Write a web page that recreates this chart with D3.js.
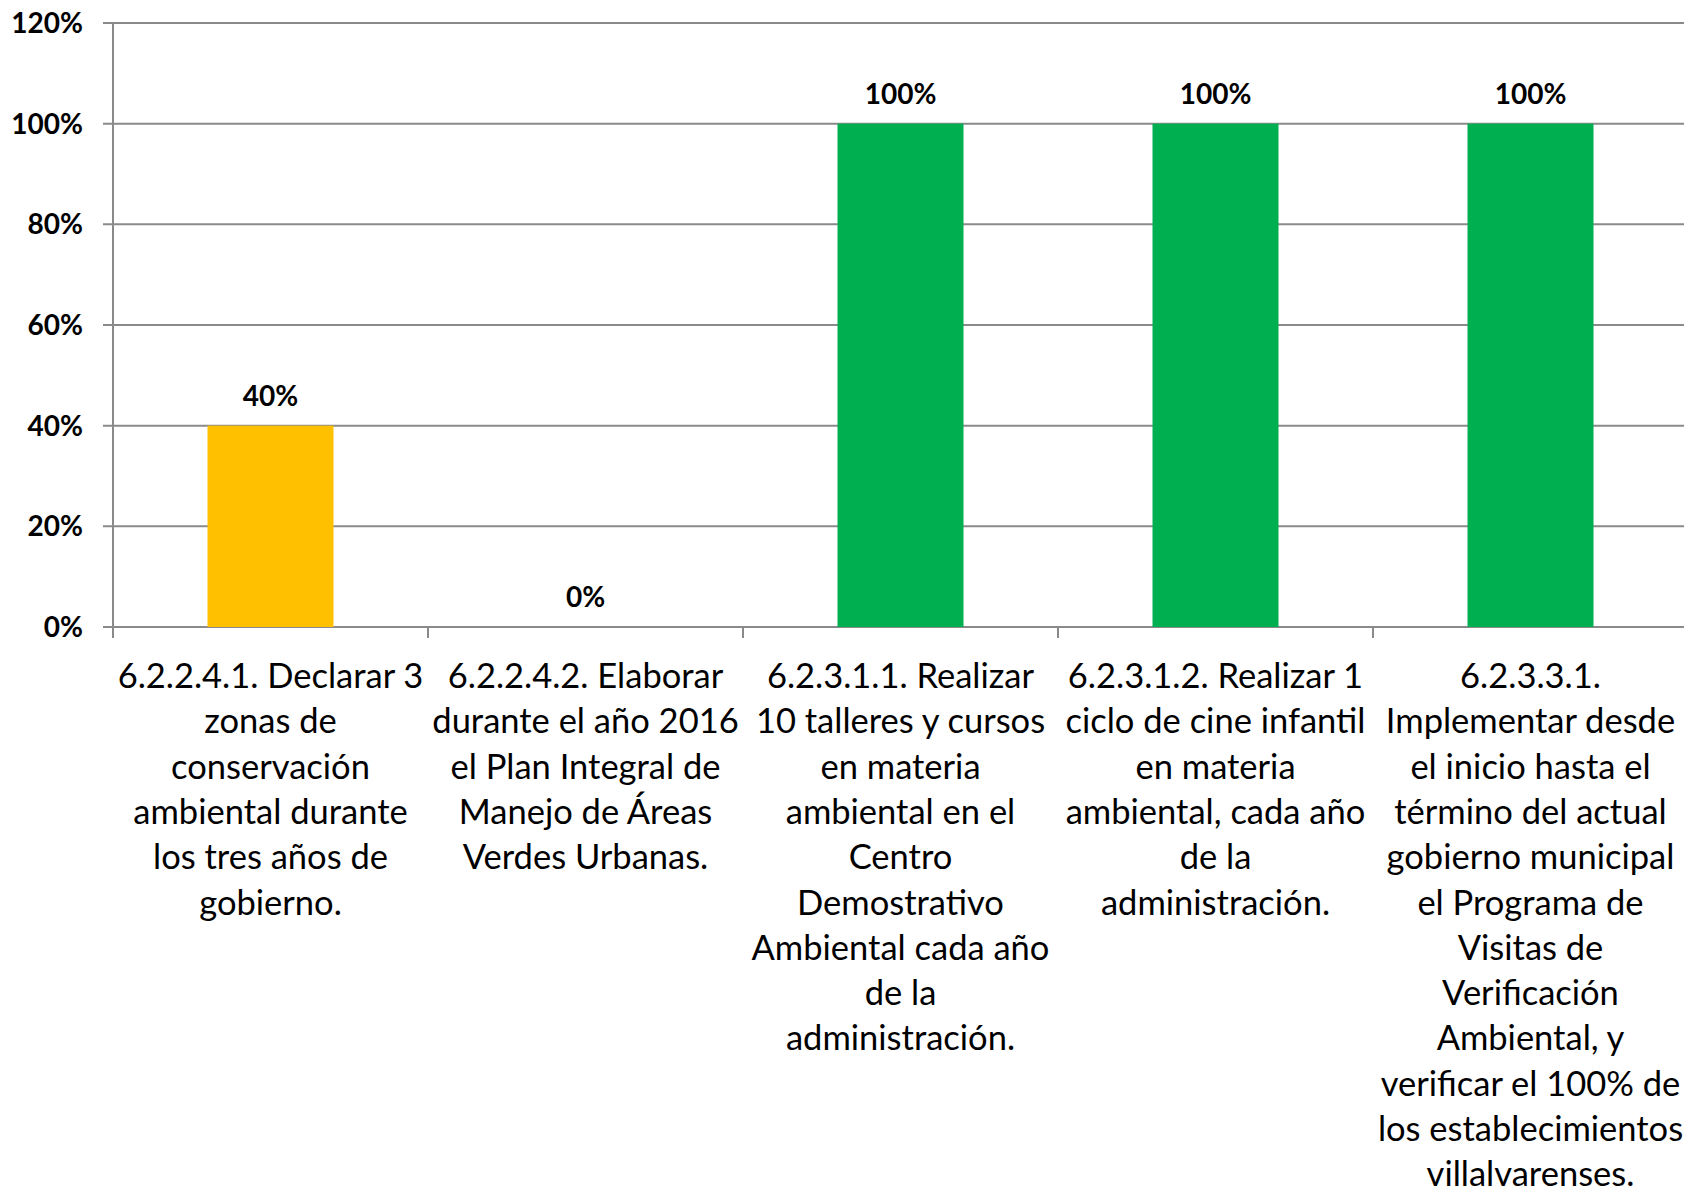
<!DOCTYPE html>
<html>
<head>
<meta charset="utf-8">
<script src="https://cdn.jsdelivr.net/npm/d3@7"></script>
<style>
  body { margin: 0; background: #fff; }
  svg { display: block; background: #fff; }
  .tick-label, .value-label { font-family: Lato, "Open Sans", sans-serif; font-weight: bold; font-size: 28px; fill: #000; }
  .cat-label { font-family: Lato, "Open Sans", sans-serif; font-size: 34.5px; fill: #000; }
</style>
</head>
<body>
<script>
// categories, wrapped the way the original chart wraps them
var categories = ["6.2.2.4.1", "6.2.2.4.2", "6.2.3.1.1", "6.2.3.1.2", "6.2.3.3.1"];

var categoryLines = [
  ["6.2.2.4.1. Declarar 3", "zonas de", "conservación", "ambiental durante", "los tres años de", "gobierno."],
  ["6.2.2.4.2. Elaborar", "durante el año 2016", "el Plan Integral de", "Manejo de Áreas", "Verdes Urbanas."],
  ["6.2.3.1.1. Realizar", "10 talleres y cursos", "en materia", "ambiental en el", "Centro", "Demostrativo", "Ambiental cada año", "de la", "administración."],
  ["6.2.3.1.2. Realizar 1", "ciclo de cine infantil", "en materia", "ambiental, cada año", "de la", "administración."],
  ["6.2.3.3.1.", "Implementar desde", "el inicio hasta el", "término del actual", "gobierno municipal", "el Programa de", "Visitas de", "Verificación", "Ambiental, y", "verificar el 100% de", "los establecimientos", "villalvarenses."]
];

var values = [0.40, 0.00, 1.00, 1.00, 1.00];
var barColors = ["#FFC000", "#00B050", "#00B050", "#00B050", "#00B050"];
var yTicks = [0, 0.2, 0.4, 0.6, 0.8, 1.0, 1.2];

var width = 1684, height = 1192;
var plotLeft = 113, plotTop = 23, plotBottom = 627;
var step = 315;
var gridColor = "#8a8a8a";

var svg = d3.select("body").append("svg")
    .attr("width", width)
    .attr("height", height);

var x = d3.scaleBand()
    .domain(categories)
    .range([plotLeft, plotLeft + step * categories.length])
    .paddingInner(0.6)
    .paddingOuter(0.3);

var y = d3.scaleLinear()
    .domain([0, 1.2])
    .range([plotBottom, plotTop]);

// horizontal gridlines
svg.append("g")
  .selectAll("line")
    .data(yTicks)
  .enter().append("line")
    .attr("x1", plotLeft - 10)
    .attr("x2", width)
    .attr("y1", function(d) { return y(d); })
    .attr("y2", function(d) { return y(d); })
    .style("stroke", gridColor)
    .style("stroke-width", 2);

// y axis line
svg.append("line")
    .attr("x1", plotLeft)
    .attr("x2", plotLeft)
    .attr("y1", y(1.2))
    .attr("y2", plotBottom + 11)
    .style("stroke", gridColor)
    .style("stroke-width", 2);

// category separators below the axis
svg.append("g")
  .selectAll("line")
    .data(d3.range(categories.length + 1))
  .enter().append("line")
    .attr("x1", function(i) { return x.range()[0] + i * x.step(); })
    .attr("x2", function(i) { return x.range()[0] + i * x.step(); })
    .attr("y1", plotBottom)
    .attr("y2", plotBottom + 11)
    .style("stroke", gridColor)
    .style("stroke-width", 2);

// y tick labels
svg.append("g")
  .selectAll("text")
    .data(yTicks)
  .enter().append("text")
    .attr("class", "tick-label")
    .attr("x", 83)
    .attr("y", function(d) { return y(d); })
    .attr("dy", "0.36em")
    .style("text-anchor", "end")
    .text(d3.format(".0%"));

// bars
svg.append("g")
  .selectAll("rect")
    .data(values)
  .enter().append("rect")
    .attr("x", function(d, i) { return x(categories[i]); })
    .attr("width", x.bandwidth())
    .attr("y", function(d) { return y(d); })
    .attr("height", function(d) { return y(0) - y(d); })
    .style("fill", function(d, i) { return barColors[i]; });

// value labels
svg.append("g")
  .selectAll("text")
    .data(values)
  .enter().append("text")
    .attr("class", "value-label")
    .attr("x", function(d, i) { return x(categories[i]) + x.bandwidth() / 2; })
    .attr("y", function(d) { return y(d) - 20; })
    .style("text-anchor", "middle")
    .text(d3.format(".0%"));

// category labels
var cats = svg.append("g")
  .selectAll("text")
    .data(categoryLines)
  .enter().append("text")
    .attr("class", "cat-label")
    .attr("x", function(d, i) { return x(categories[i]) + x.bandwidth() / 2; })
    .attr("y", 688)
    .style("text-anchor", "middle");

cats.selectAll("tspan")
    .data(function(d) { return d; })
  .enter().append("tspan")
    .attr("x", function() { return d3.select(this.parentNode).attr("x"); })
    .attr("y", function(d, j) { return 688 + j * 45.3; })
    .text(function(d) { return d; });
</script>
</body>
</html>
